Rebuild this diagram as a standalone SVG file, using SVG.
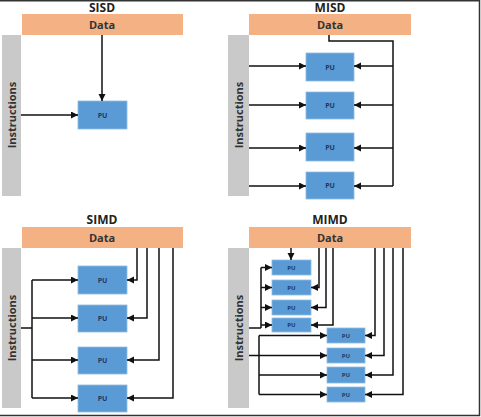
<svg xmlns="http://www.w3.org/2000/svg" width="481" height="417" viewBox="0 0 481 417">
<defs>
<marker id="ah" markerUnits="userSpaceOnUse" markerWidth="8" markerHeight="8" refX="7" refY="3.5" orient="auto">
<path d="M0,0 L7,3.5 L0,7 z" fill="#111"/>
</marker>
<style>
.title{font-family:"Open Sans","Liberation Sans",sans-serif;font-weight:bold;font-size:12px;fill:#222;text-anchor:middle}
.data{fill:#f4b183}
.dlbl{font-family:"Open Sans","Liberation Sans",sans-serif;font-weight:bold;font-size:11px;fill:#333;text-anchor:middle}
.instr{fill:#c9c9c9}
.ilbl{font-family:"Open Sans","Liberation Sans",sans-serif;font-weight:bold;font-size:11px;fill:#333;text-anchor:middle}
.pu{fill:#5b9bd5;stroke:#8fbbe3;stroke-width:0.8}
.pul{font-family:"Open Sans","Liberation Sans",sans-serif;font-weight:bold;font-size:7px;fill:#1f3864;text-anchor:middle}
.pus{font-family:"Open Sans","Liberation Sans",sans-serif;font-weight:bold;font-size:6px;fill:#1f3864;text-anchor:middle}
.c{fill:none;stroke:#111;stroke-width:1.5}
.a{marker-end:url(#ah)}
</style>
</defs>
<rect width="481" height="417" fill="#fff"/>
<path d="M0,0.75 H479.5 V415.5 H0" fill="none" stroke="#333" stroke-width="1.5"/>

<!-- SISD -->
<g id="sisd-title"><text class="title" x="102" y="12">SISD</text></g>
<g id="sisd-data"><rect class="data" x="22" y="14" width="161" height="21"/><text class="dlbl" x="102" y="29">Data</text></g>
<g id="sisd-instr"><rect class="instr" x="2" y="35" width="19" height="161"/><text class="ilbl" transform="translate(15.5,115) rotate(-90)">Instructions</text></g>
<g id="sisd-pu"><rect class="pu" x="78" y="101" width="49" height="28"/><text class="pul" x="102.5" y="117.5">PU</text></g>

<!-- MISD -->
<g id="misd-title"><text class="title" x="330" y="12">MISD</text></g>
<g id="misd-data"><rect class="data" x="249" y="14" width="162" height="21"/><text class="dlbl" x="330" y="29">Data</text></g>
<g id="misd-instr"><rect class="instr" x="228" y="35" width="21" height="161"/><text class="ilbl" transform="translate(242.5,115) rotate(-90)">Instructions</text></g>
<g id="misd-pu1"><rect class="pu" x="306" y="53" width="48" height="28"/><text class="pul" x="330" y="69.5">PU</text></g>
<g id="misd-pu2"><rect class="pu" x="306" y="92" width="48" height="27"/><text class="pul" x="330" y="108">PU</text></g>
<g id="misd-pu3"><rect class="pu" x="306" y="133" width="48" height="28"/><text class="pul" x="330" y="149.5">PU</text></g>
<g id="misd-pu4"><rect class="pu" x="306" y="172" width="48" height="27"/><text class="pul" x="330" y="188">PU</text></g>

<!-- SIMD -->
<g id="simd-title"><text class="title" x="102" y="224">SIMD</text></g>
<g id="simd-data"><rect class="data" x="22" y="227" width="161" height="21"/><text class="dlbl" x="102" y="242">Data</text></g>
<g id="simd-instr"><rect class="instr" x="2" y="248" width="19" height="160"/><text class="ilbl" transform="translate(15.5,328) rotate(-90)">Instructions</text></g>
<g id="simd-pu1"><rect class="pu" x="78" y="266" width="49" height="28"/><text class="pul" x="102.5" y="282.5">PU</text></g>
<g id="simd-pu2"><rect class="pu" x="78" y="305" width="49" height="27"/><text class="pul" x="102.5" y="321">PU</text></g>
<g id="simd-pu3"><rect class="pu" x="78" y="347" width="49" height="27"/><text class="pul" x="102.5" y="363">PU</text></g>
<g id="simd-pu4"><rect class="pu" x="78" y="385" width="49" height="27"/><text class="pul" x="102.5" y="401">PU</text></g>

<!-- MIMD -->
<g id="mimd-title"><text class="title" x="330" y="224">MIMD</text></g>
<g id="mimd-data"><rect class="data" x="249" y="227" width="162" height="21"/><text class="dlbl" x="330" y="242">Data</text></g>
<g id="mimd-instr"><rect class="instr" x="228" y="248" width="21" height="160"/><text class="ilbl" transform="translate(242.5,328) rotate(-90)">Instructions</text></g>
<g id="mimd-pu1"><rect class="pu" x="272" y="260" width="39" height="15"/><text class="pus" x="291.5" y="269.5">PU</text></g>
<g id="mimd-pu2"><rect class="pu" x="272" y="280" width="39" height="15"/><text class="pus" x="291.5" y="289.5">PU</text></g>
<g id="mimd-pu3"><rect class="pu" x="272" y="300" width="39" height="15"/><text class="pus" x="291.5" y="309.5">PU</text></g>
<g id="mimd-pu4"><rect class="pu" x="272" y="318" width="39" height="14"/><text class="pus" x="291.5" y="327">PU</text></g>
<g id="mimd-pu5"><rect class="pu" x="327" y="328" width="38" height="15"/><text class="pus" x="346" y="337.5">PU</text></g>
<g id="mimd-pu6"><rect class="pu" x="327" y="348" width="38" height="15"/><text class="pus" x="346" y="357.5">PU</text></g>
<g id="mimd-pu7"><rect class="pu" x="327" y="367" width="38" height="16"/><text class="pus" x="346" y="377">PU</text></g>
<g id="mimd-pu8"><rect class="pu" x="327" y="387" width="38" height="15"/><text class="pus" x="346" y="396.5">PU</text></g>

<g id="connectors">
<!-- SISD -->
<path class="c a" d="M102,35 V101"/>
<path class="c a" d="M21,115 H78"/>
<!-- MISD -->
<path class="c" d="M329,35 V41 H393 V186"/>
<path class="c a" d="M393,66 H354"/>
<path class="c a" d="M393,105 H354"/>
<path class="c a" d="M393,148 H354"/>
<path class="c a" d="M393,186 H354"/>
<path class="c a" d="M249,66 H306"/>
<path class="c a" d="M249,105 H306"/>
<path class="c a" d="M249,148 H306"/>
<path class="c a" d="M249,186 H306"/>
<!-- SIMD -->
<path class="c a" d="M137,248 V280 H127"/>
<path class="c a" d="M147,248 V318 H127"/>
<path class="c a" d="M159,248 V360 H127"/>
<path class="c a" d="M173,248 V398 H127"/>
<path class="c" d="M21,328 H32 M32,280 V398"/>
<path class="c a" d="M32,280 H78"/>
<path class="c a" d="M32,318 H78"/>
<path class="c a" d="M32,360 H78"/>
<path class="c a" d="M32,398 H78"/>
<!-- MIMD -->
<path class="c a" d="M291,248 V260"/>
<path class="c a" d="M319,248 V287.5 H311"/>
<path class="c a" d="M326,248 V307.5 H311"/>
<path class="c a" d="M333,248 V325 H311"/>
<path class="c a" d="M375,248 V335.5 H365"/>
<path class="c a" d="M384,248 V355.5 H365"/>
<path class="c a" d="M393,248 V375 H365"/>
<path class="c a" d="M403,248 V394.5 H365"/>
<path class="c" d="M249,328 H261 M261,267.5 V328"/>
<path class="c a" d="M261,267.5 H272"/>
<path class="c a" d="M261,287.5 H272"/>
<path class="c a" d="M261,307.5 H272"/>
<path class="c a" d="M261,325 H272"/>
<path class="c" d="M259,335.5 V394.5"/>
<path class="c a" d="M249,355.5 H327"/>
<path class="c a" d="M259,335.5 H327"/>
<path class="c a" d="M259,375 H327"/>
<path class="c a" d="M259,394.5 H327"/>
</g>
</svg>
